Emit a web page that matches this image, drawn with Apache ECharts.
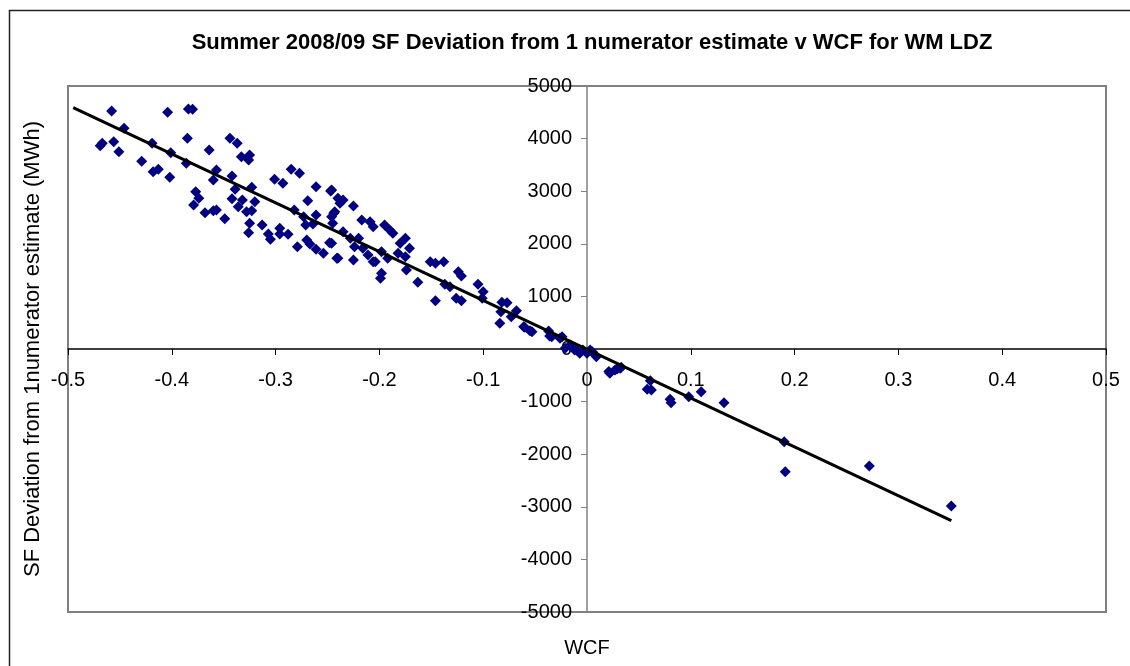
<!DOCTYPE html>
<html>
<head>
<meta charset="utf-8">
<script src="https://cdn.jsdelivr.net/npm/echarts@6/dist/echarts.min.js"></script>
<style>
html,body{margin:0;padding:0;background:#fff;}
#chart{width:1130px;height:666px;}
</style>
</head>
<body>
<div id="chart"></div>
<script>
// WCF values (x) and SF deviation (MWh, y)
var wcf = [
-0.458,-0.404,-0.384,-0.380,-0.446,-0.469,-0.467,-0.456,-0.451,-0.385,-0.419,-0.401,-0.429,-0.418,-0.413,-0.402,-0.386,
-0.364,-0.344,-0.337,-0.333,-0.325,-0.326,-0.357,-0.360,-0.342,-0.339,-0.323,-0.377,-0.374,-0.379,-0.368,-0.360,-0.357,
-0.349,-0.342,-0.332,-0.336,-0.328,-0.323,-0.320,-0.325,-0.326,-0.313,-0.307,-0.305,-0.296,-0.296,-0.288,-0.301,-0.293,
-0.285,-0.277,-0.261,-0.247,-0.269,-0.282,-0.273,-0.261,-0.271,-0.264,-0.270,-0.267,-0.279,-0.261,-0.254,-0.248,-0.244,
-0.245,-0.241,-0.240,
-0.246,-0.235,-0.238,-0.225,-0.243,-0.246,-0.217,-0.209,-0.206,-0.195,-0.190,-0.187,-0.175,-0.171,-0.180,-0.182,-0.175,
-0.235,-0.228,-0.220,-0.224,-0.216,-0.211,-0.206,-0.198,-0.192,-0.240,-0.225,-0.246,-0.151,-0.146,-0.138,-0.124,-0.198,
-0.204,-0.199,-0.174,-0.163,-0.121,-0.137,-0.132,-0.146,-0.126,-0.121,-0.105,-0.100,-0.101,-0.082,-0.077,-0.083,-0.068,
-0.073,-0.084,-0.060,-0.055,-0.037,-0.036,-0.026,-0.021,-0.016,-0.010,-0.004,0.005,0.009,0.000,
0.003,0.008,0.022,0.027,0.032,0.033,0.061,0.058,0.062,0.080,0.081,0.098,0.110,0.132,0.190,0.191,0.272,0.351,
-0.061,-0.053,-0.034,-0.024,-0.012,-0.007,0.021,0.029
];
var deviation = [
4524,4500,4562,4560,4195,3865,3910,3941,3751,4005,3910,3732,3568,3370,3416,3264,3530,
3783,4005,3910,3656,3688,3593,3403,3213,3289,3036,3074,2990,2865,2737,2591,2629,2642,
2477,2857,2832,2705,2610,2629,2800,2389,2211,2357,2186,2085,2294,2186,2180,3226,3150,
3416,3340,3086,3004,2819,2642,2515,2547,2357,2376,2072,1996,1945,1895,1819,2021,2580,
2389,1724,2865,
3023,2832,2770,2718,2610,2515,2452,2420,2325,2357,2262,2199,2104,1914,2009,1819,1755,
2230,2104,2104,1945,1914,1787,1660,1850,1724,1724,1692,2009,1660,1629,1660,1470,1439,
1660,1344,1502,1268,1388,1230,1184,918,964,918,1230,1090,964,888,880,709,728,
614,489,413,348,342,247,203,13,76,-19,-19,-51,-146,-82,
-19,-114,-462,-399,-367,-348,-602,-766,-779,-956,-1020,-906,-811,-1020,-1762,-2332,-2224,-2984,
424,329,234,234,-19,-82,-430,-380
];
// Linear trend line end points
var trendX = [-0.495, 0.351];
var trendY = [4587, -3264];

var xTicks = [-0.5,-0.4,-0.3,-0.2,-0.1,0,0.1,0.2,0.3,0.4,0.5];
var yTicks = [-5000,-4000,-3000,-2000,-1000,0,1000,2000,3000,4000,5000];

var pts = wcf.map(function(x,i){return [x, deviation[i]];});
var trend = trendX.map(function(x,i){return [x, trendY[i]];});

var chart = echarts.init(document.getElementById('chart'), null, {renderer:'canvas'});
var FONT = 'Liberation Sans, Arial, sans-serif';
chart.setOption({
  animation:false,
  backgroundColor:'#ffffff',
  title:{
    text:'Summer 2008/09 SF Deviation from 1 numerator estimate v WCF for WM LDZ',
    left:587, top:27, textAlign:'center',
    textStyle:{fontFamily:FONT,fontSize:22,fontWeight:'bold',color:'#000'}
  },
  graphic:[{
    type:'rect', left:7, top:8, silent:true,
    shape:{x:0,y:0,width:1140,height:680},
    style:{fill:'none',stroke:'#222',lineWidth:1.5}
  }],
  grid:{left:68,right:24,top:86,bottom:54,containLabel:false,outerBoundsMode:'none',
    show:true,borderColor:'#808080',borderWidth:2,backgroundColor:'#fff'},
  xAxis:{
    type:'value',min:-0.5,max:0.5,interval:0.1,position:'bottom',offset:-263,
    name:'WCF',nameLocation:'middle',nameGap:289,
    nameTextStyle:{fontFamily:FONT,fontSize:20,color:'#000'},
    axisLine:{show:true,onZero:false,lineStyle:{color:'#000',width:1.5}},
    axisTick:{show:true,inside:false,length:6,lineStyle:{color:'#000'}},
    axisLabel:{fontFamily:FONT,fontSize:20,color:'#000',margin:21,
      formatter:function(v){return String(Math.round(v*10)/10);}},
    splitLine:{show:false}
  },
  yAxis:{
    type:'value',min:-5000,max:5000,interval:1000,position:'left',offset:-519,
    name:'SF Deviation from 1numerator estimate (MWh)',nameLocation:'middle',nameGap:543,
    nameTextStyle:{fontFamily:FONT,fontSize:22,color:'#000'},
    axisLine:{show:true,onZero:false,lineStyle:{color:'#808080',width:1.5}},
    axisTick:{show:true,inside:false,length:6,lineStyle:{color:'#808080'}},
    axisLabel:{fontFamily:FONT,fontSize:20,color:'#000',margin:15,
      formatter:function(v){return String(v);}},
    splitLine:{show:false}
  },
  series:[
    {type:'scatter',data:pts,symbol:'diamond',symbolSize:11,
     itemStyle:{color:'#000080',opacity:1},z:2},
    {type:'line',data:trend,symbol:'none',lineStyle:{color:'#000',width:3},z:3}
  ]
});
</script>
</body>
</html>
